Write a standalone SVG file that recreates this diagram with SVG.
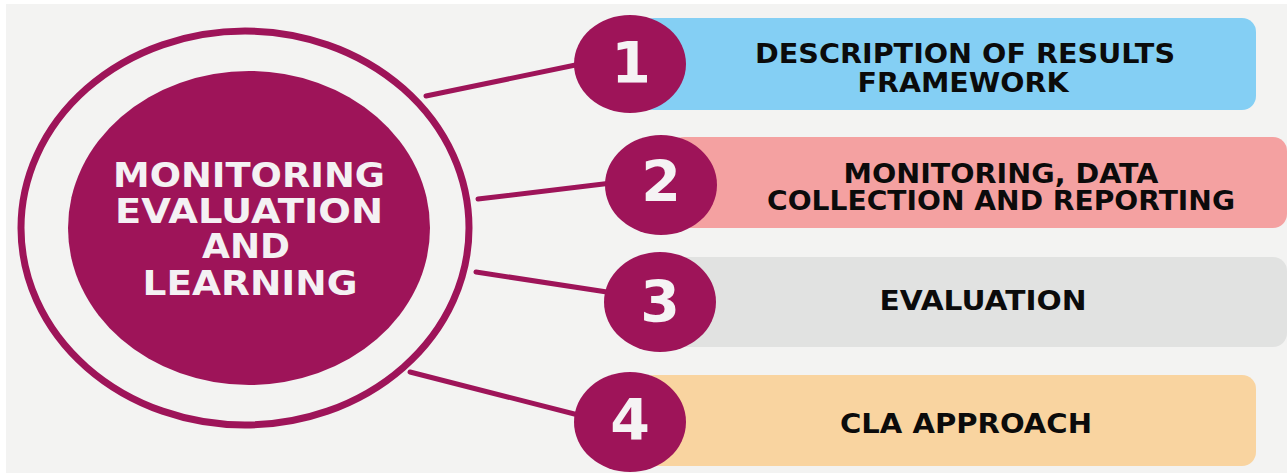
<svg xmlns="http://www.w3.org/2000/svg" width="1287" height="475" viewBox="0 0 1287 475">
  <style>
    .mag { fill: #9e1459; }
    .ring { fill: none; stroke: #9e1459; stroke-width: 7; }
    .conn { stroke: #9e1459; stroke-width: 5; stroke-linecap: round; fill: none; }
    .center-text { font-family: "DejaVu Sans", "Liberation Sans", sans-serif; font-weight: bold; font-size: 33px; fill: #f4f1f3; text-anchor: middle; }
    .num { font-family: "DejaVu Sans", "Liberation Sans", sans-serif; font-weight: bold; font-size: 57px; fill: #f5f3f4; text-anchor: middle; }
    .label { font-family: "DejaVu Sans", "Liberation Sans", sans-serif; font-weight: bold; font-size: 27px; fill: #0b0b0b; text-anchor: middle; }
  </style>
  <rect x="0" y="0" width="1287" height="475" fill="#ffffff"/>
  <rect x="6" y="4" width="1281" height="469" fill="#f3f3f2"/>

  <g id="connectors">
    <line class="conn" x1="426" y1="96" x2="590" y2="62"/>
    <line class="conn" x1="478" y1="199" x2="620" y2="182"/>
    <line class="conn" x1="476" y1="272" x2="620" y2="294"/>
    <line class="conn" x1="410" y1="372" x2="590" y2="418"/>
  </g>

  <g id="node-center">
    <ellipse class="ring" cx="245" cy="228" rx="224" ry="197"/>
    <ellipse class="mag" cx="249" cy="228" rx="181" ry="157"/>
    <text class="center-text" x="249" y="187" textLength="272" lengthAdjust="spacingAndGlyphs">MONITORING</text>
    <text class="center-text" x="249" y="223" textLength="268" lengthAdjust="spacingAndGlyphs">EVALUATION</text>
    <text class="center-text" x="246" y="258" textLength="88" lengthAdjust="spacingAndGlyphs">AND</text>
    <text class="center-text" x="250" y="295" textLength="215" lengthAdjust="spacingAndGlyphs">LEARNING</text>
  </g>

  <g id="node-1">
    <rect x="640" y="18" width="616" height="92" rx="14" fill="#84cff4"/>
    <ellipse class="mag" cx="630" cy="64" rx="56" ry="49"/>
    <text class="num" x="631" y="83">1</text>
    <text class="label" x="965" y="63" textLength="420" lengthAdjust="spacingAndGlyphs">DESCRIPTION OF RESULTS</text>
    <text class="label" x="963" y="92" textLength="211" lengthAdjust="spacingAndGlyphs">FRAMEWORK</text>
  </g>

  <g id="node-2">
    <rect x="670" y="137" width="617" height="91" rx="14" fill="#f4a1a1"/>
    <ellipse class="mag" cx="661" cy="185" rx="56" ry="50"/>
    <text class="num" x="661" y="202">2</text>
    <text class="label" x="1001" y="183" textLength="315" lengthAdjust="spacingAndGlyphs">MONITORING, DATA</text>
    <text class="label" x="1001" y="210" textLength="468" lengthAdjust="spacingAndGlyphs">COLLECTION AND REPORTING</text>
  </g>

  <g id="node-3">
    <rect x="670" y="257" width="617" height="90" rx="14" fill="#e1e2e1"/>
    <ellipse class="mag" cx="660" cy="302" rx="56" ry="50"/>
    <text class="num" x="660" y="322">3</text>
    <text class="label" x="983" y="310" textLength="207" lengthAdjust="spacingAndGlyphs">EVALUATION</text>
  </g>

  <g id="node-4">
    <rect x="640" y="375" width="616" height="91" rx="14" fill="#f9d4a0"/>
    <ellipse class="mag" cx="630" cy="422" rx="56" ry="50"/>
    <text class="num" x="630" y="440">4</text>
    <text class="label" x="966" y="433" textLength="252" lengthAdjust="spacingAndGlyphs">CLA APPROACH</text>
  </g>
</svg>
